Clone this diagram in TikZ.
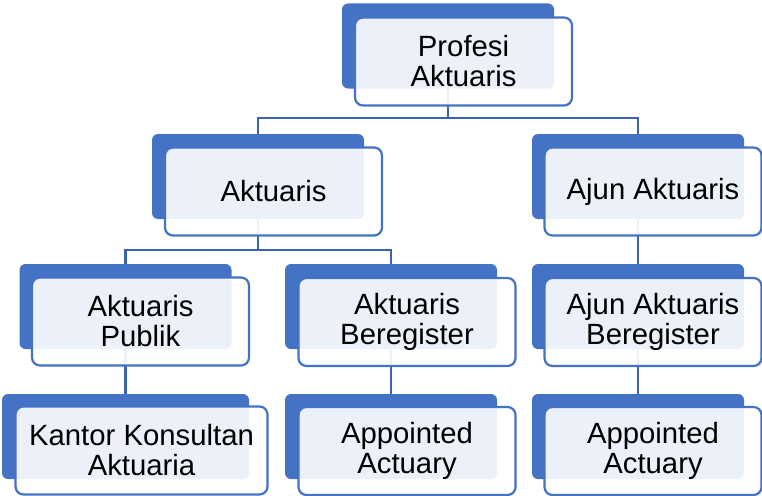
\documentclass[tikz,border=0pt]{standalone}
\usepackage{fontspec}
\setmainfont{Liberation Sans}
\usepackage{tikz}
\definecolor{blueA}{HTML}{4472C4}
\definecolor{blueB}{HTML}{3B63AD}

\begin{document}
\begin{tikzpicture}[x=1pt,y=-1pt,
	backbox/.style={fill=blueA,rounded corners=6pt,minimum width=212pt,minimum height=85pt,inner sep=0pt},
	frontbox/.style={draw=blueA,line width=2.2pt,fill=white,fill opacity=.9,text opacity=1,rounded corners=8pt,minimum width=217pt,minimum height=88pt,inner sep=0pt,align=center,font=\fontsize{29.3}{30}\selectfont},
	link/.style={draw=blueB,line width=2.3pt}]
\useasboundingbox (0,0) rectangle (762,495);

\node[backbox] (prof-b) at (448,46) {};
\node[backbox] (akt-b) at (258,176.5) {};
\node[backbox] (ajun-b) at (638,176.5) {};
\node[backbox] (pub-b) at (125.5,306.5) {};
\node[backbox] (bereg-b) at (391,306.5) {};
\node[backbox] (ajunb-b) at (638,306.5) {};
\node[backbox,minimum width=247pt] (kantor-b) at (125.5,436.5) {};
\node[backbox] (appt1-b) at (391,436.5) {};
\node[backbox] (appt2-b) at (638,436.5) {};

\coordinate (bus1) at (448,118);
\coordinate (bus2) at (258,250);
\draw[link] (prof-b.south) -- (bus1) -| (akt-b.north);
\draw[link] (bus1) -| (ajun-b.north);
\draw[link] (akt-b.south) -- (bus2) -| (pub-b.north);
\draw[link] (bus2) -| (bereg-b.north);
\draw[link] (pub-b.south) -- (kantor-b.north);
\draw[link] (bereg-b.south) -- (appt1-b.north);
\draw[link] (ajun-b.south) -- (ajunb-b.north);
\draw[link] (ajunb-b.south) -- (appt2-b.north);

\node[frontbox] (prof) at (463.5,61.5) {Profesi\\Aktuaris};
\node[frontbox] (akt) at (273.5,191.5) {Aktuaris};
\node[frontbox] (ajun) at (653,191.5) {Ajun Aktuaris};
\node[frontbox] (pub) at (140.5,321.5) {Aktuaris\\Publik};
\node[frontbox] (bereg) at (407,322) {Aktuaris\\Beregister};
\node[frontbox] (ajunb) at (653,322) {Ajun Aktuaris\\Beregister};
\node[frontbox,minimum width=252pt] (kantor) at (141.5,450.5) {Kantor Konsultan\\Aktuaria};
\node[frontbox] (appt1) at (407,451) {Appointed\\Actuary};
\node[frontbox] (appt2) at (653,451) {Appointed\\Actuary};

\end{tikzpicture}
\end{document}
